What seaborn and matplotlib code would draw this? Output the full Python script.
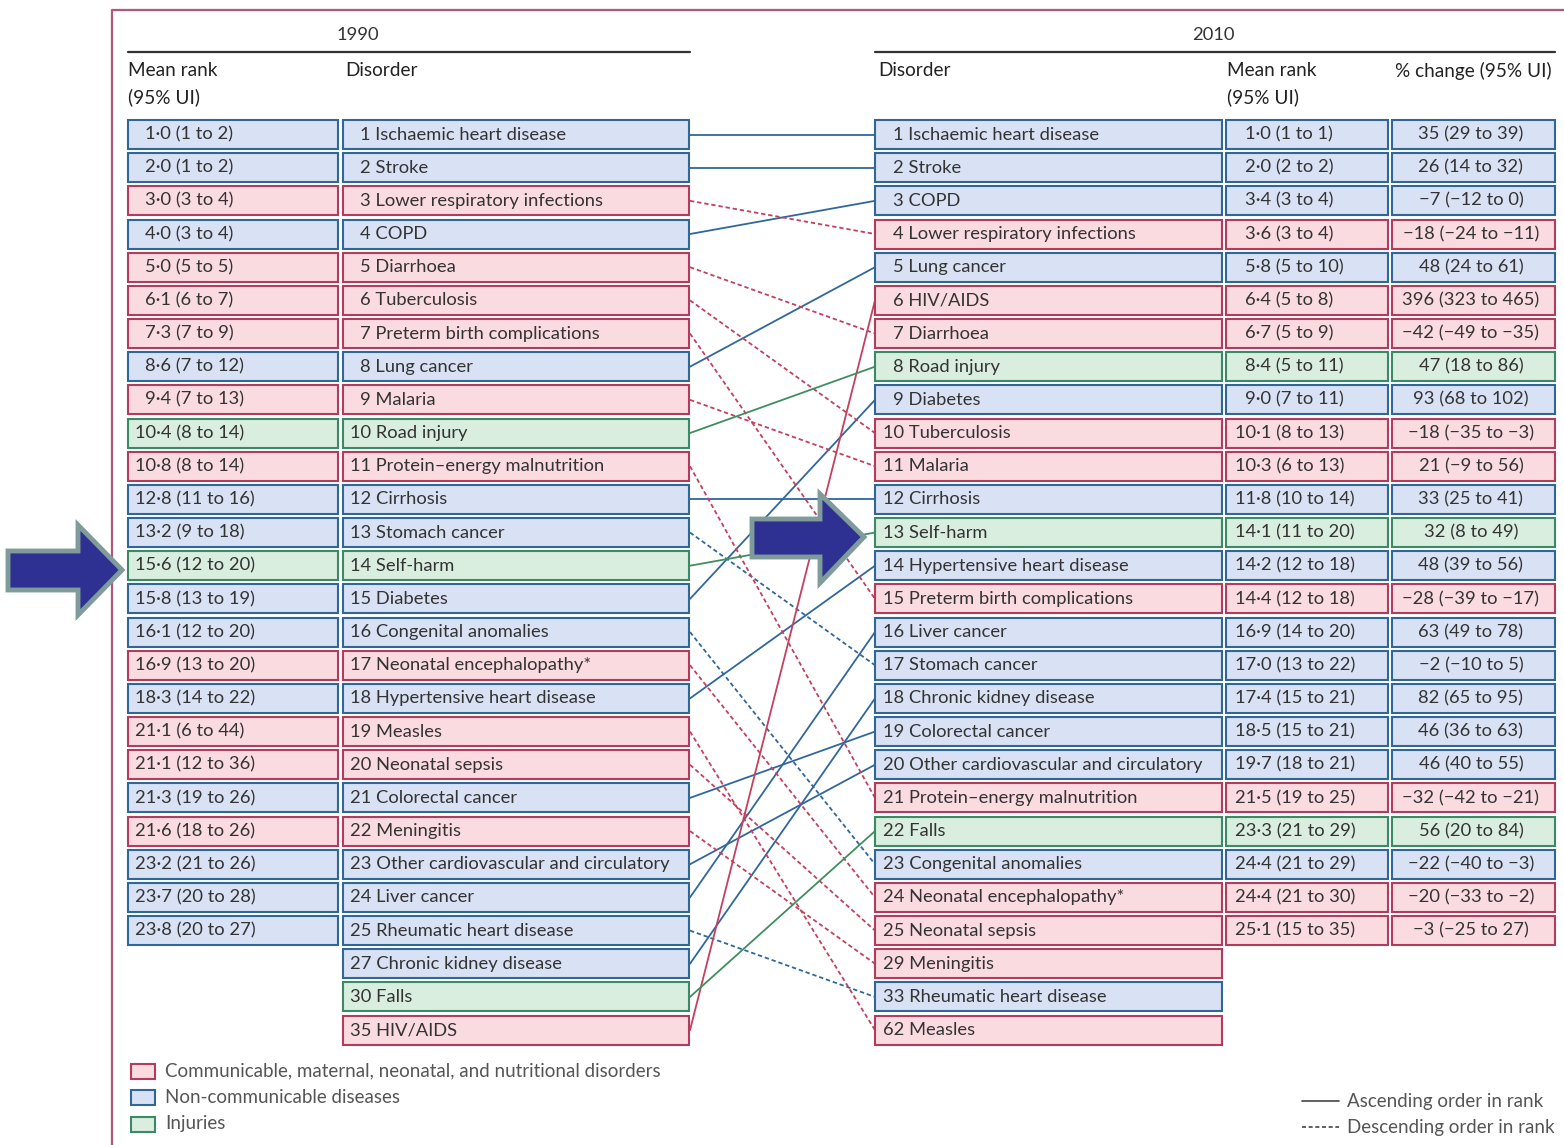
import numpy as np
import pandas as pd
import matplotlib.pyplot as plt
from matplotlib.patches import Rectangle, Polygon
import seaborn as sns

# ---- data -------------------------------------------------------------
# C = communicable, maternal, neonatal, nutritional; N = non-communicable; I = injuries
rank_1990 = [1, 2, 3, 4, 5, 6, 7, 8, 9, 10, 11, 12, 13, 14, 15, 16, 17, 18,
             19, 20, 21, 22, 23, 24, 25, 27, 30, 35]
disorder_1990 = ["Ischaemic heart disease", "Stroke", "Lower respiratory infections",
                 "COPD", "Diarrhoea", "Tuberculosis", "Preterm birth complications",
                 "Lung cancer", "Malaria", "Road injury", "Protein\u2013energy malnutrition",
                 "Cirrhosis", "Stomach cancer", "Self-harm", "Diabetes",
                 "Congenital anomalies", "Neonatal encephalopathy*",
                 "Hypertensive heart disease", "Measles", "Neonatal sepsis",
                 "Colorectal cancer", "Meningitis", "Other cardiovascular and circulatory",
                 "Liver cancer", "Rheumatic heart disease", "Chronic kidney disease",
                 "Falls", "HIV/AIDS"]
group_1990 = ["N", "N", "C", "N", "C", "C", "C", "N", "C", "I", "C", "N", "N", "I",
              "N", "N", "C", "N", "C", "C", "N", "C", "N", "N", "N", "N", "I", "C"]
meanrank_1990 = ["1\u00b70 (1 to 2)", "2\u00b70 (1 to 2)", "3\u00b70 (3 to 4)",
                 "4\u00b70 (3 to 4)", "5\u00b70 (5 to 5)", "6\u00b71 (6 to 7)",
                 "7\u00b73 (7 to 9)", "8\u00b76 (7 to 12)", "9\u00b74 (7 to 13)",
                 "10\u00b74 (8 to 14)", "10\u00b78 (8 to 14)", "12\u00b78 (11 to 16)",
                 "13\u00b72 (9 to 18)", "15\u00b76 (12 to 20)", "15\u00b78 (13 to 19)",
                 "16\u00b71 (12 to 20)", "16\u00b79 (13 to 20)", "18\u00b73 (14 to 22)",
                 "21\u00b71 (6 to 44)", "21\u00b71 (12 to 36)", "21\u00b73 (19 to 26)",
                 "21\u00b76 (18 to 26)", "23\u00b72 (21 to 26)", "23\u00b77 (20 to 28)",
                 "23\u00b78 (20 to 27)"]

rank_2010 = [1, 2, 3, 4, 5, 6, 7, 8, 9, 10, 11, 12, 13, 14, 15, 16, 17, 18,
             19, 20, 21, 22, 23, 24, 25, 29, 33, 62]
disorder_2010 = ["Ischaemic heart disease", "Stroke", "COPD", "Lower respiratory infections",
                 "Lung cancer", "HIV/AIDS", "Diarrhoea", "Road injury", "Diabetes",
                 "Tuberculosis", "Malaria", "Cirrhosis", "Self-harm",
                 "Hypertensive heart disease", "Preterm birth complications",
                 "Liver cancer", "Stomach cancer", "Chronic kidney disease",
                 "Colorectal cancer", "Other cardiovascular and circulatory",
                 "Protein\u2013energy malnutrition", "Falls", "Congenital anomalies",
                 "Neonatal encephalopathy*", "Neonatal sepsis", "Meningitis",
                 "Rheumatic heart disease", "Measles"]
group_2010 = ["N", "N", "N", "C", "N", "C", "C", "I", "N", "C", "C", "N", "I", "N",
              "C", "N", "N", "N", "N", "N", "C", "I", "N", "C", "C", "C", "N", "C"]
meanrank_2010 = ["1\u00b70 (1 to 1)", "2\u00b70 (2 to 2)", "3\u00b74 (3 to 4)",
                 "3\u00b76 (3 to 4)", "5\u00b78 (5 to 10)", "6\u00b74 (5 to 8)",
                 "6\u00b77 (5 to 9)", "8\u00b74 (5 to 11)", "9\u00b70 (7 to 11)",
                 "10\u00b71 (8 to 13)", "10\u00b73 (6 to 13)", "11\u00b78 (10 to 14)",
                 "14\u00b71 (11 to 20)", "14\u00b72 (12 to 18)", "14\u00b74 (12 to 18)",
                 "16\u00b79 (14 to 20)", "17\u00b70 (13 to 22)", "17\u00b74 (15 to 21)",
                 "18\u00b75 (15 to 21)", "19\u00b77 (18 to 21)", "21\u00b75 (19 to 25)",
                 "23\u00b73 (21 to 29)", "24\u00b74 (21 to 29)", "24\u00b74 (21 to 30)",
                 "25\u00b71 (15 to 35)"]
change_2010 = ["35 (29 to 39)", "26 (14 to 32)", "\u22127 (\u221212 to 0)",
               "\u221218 (\u221224 to \u221211)", "48 (24 to 61)", "396 (323 to 465)",
               "\u221242 (\u221249 to \u221235)", "47 (18 to 86)", "93 (68 to 102)",
               "\u221218 (\u221235 to \u22123)", "21 (\u22129 to 56)", "33 (25 to 41)",
               "32 (8 to 49)", "48 (39 to 56)", "\u221228 (\u221239 to \u221217)",
               "63 (49 to 78)", "\u22122 (\u221210 to 5)", "82 (65 to 95)",
               "46 (36 to 63)", "46 (40 to 55)", "\u221232 (\u221242 to \u221221)",
               "56 (20 to 84)", "\u221222 (\u221240 to \u22123)", "\u221220 (\u221233 to \u22122)",
               "\u22123 (\u221225 to 27)"]

legend_labels = ["Communicable, maternal, neonatal, and nutritional disorders",
                 "Non-communicable diseases", "Injuries"]

# ---- style ------------------------------------------------------------
sns.set_theme(style="white")
plt.rcParams['font.family'] = ['Lato', 'DejaVu Sans']

fill = {"C": "#fadbe0", "N": "#d9e1f4", "I": "#d9eedf"}
edge = {"C": "#b23c5e", "N": "#2f6796", "I": "#3b8a66"}
line_col = {"C": "#c4405f", "N": "#30679c", "I": "#3d8f5f"}
txt = "#333333"
fs = 13.2

Y0, DY, BH = 134.5, 33.17, 29
def row_y(i):
    return Y0 + i * DY

fig = plt.figure(figsize=(15.64, 11.45), dpi=100)
ax = fig.add_axes([0, 0, 1, 1])

# outer frame
ax.plot([112, 112, 1564], [1145, 10, 10], color="#b0587a", lw=1.6, solid_capstyle='butt')

# headers
ax.text(358, 35, "1990", ha='center', va='center', fontsize=fs, color=txt)
ax.text(1213, 35, "2010", ha='center', va='center', fontsize=fs, color=txt)
ax.plot([128, 690], [52, 52], color="#333333", lw=1.6)
ax.plot([875, 1555], [52, 52], color="#333333", lw=1.6)
for x, s in [(128, "Mean rank"), (345, "Disorder"), (878, "Disorder"),
             (1227, "Mean rank"), (1395, "% change (95% UI)")]:
    ax.text(x, 71, s, ha='left', va='center', fontsize=fs + 0.5, color="#222222")
for x in (128, 1227):
    ax.text(x, 97, "(95% UI)", ha='left', va='center', fontsize=fs + 0.5, color="#222222")

def box(x0, x1, i, g):
    ax.add_patch(Rectangle((x0, row_y(i) - BH / 2), x1 - x0, BH, facecolor=fill[g],
                           edgecolor=edge[g], lw=1.5, zorder=2))

# 1990 column
for i, (r, d, g) in enumerate(zip(rank_1990, disorder_1990, group_1990)):
    box(343, 689, i, g)
    ax.text(360 - 10 * (len(str(r)) - 1), row_y(i), f"{r} {d}", ha='left', va='center',
            fontsize=fs, color=txt, zorder=3)
    if i < len(meanrank_1990):
        box(128, 338, i, g)
        lead = meanrank_1990[i].split("\u00b7")[0]
        ax.text(145 - 10 * (len(lead) - 1), row_y(i), meanrank_1990[i], ha='left',
                va='center', fontsize=fs, color=txt, zorder=3)

# 2010 columns
for i, (r, d, g) in enumerate(zip(rank_2010, disorder_2010, group_2010)):
    box(875, 1222, i, g)
    ax.text(893 - 10 * (len(str(r)) - 1), row_y(i), f"{r} {d}", ha='left', va='center',
            fontsize=fs, color=txt, zorder=3)
    if i < len(meanrank_2010):
        box(1226, 1388, i, g)
        box(1392, 1555, i, g)
        lead = meanrank_2010[i].split("\u00b7")[0]
        ax.text(1245 - 10 * (len(lead) - 1), row_y(i), meanrank_2010[i], ha='left',
                va='center', fontsize=fs, color=txt, zorder=3)
        ax.text(1471, row_y(i), change_2010[i], ha='center', va='center',
                fontsize=fs, color=txt, zorder=3)

# connecting lines
recs = []
for i, d in enumerate(disorder_1990):
    j = disorder_2010.index(d)
    way = "asc" if rank_2010[j] <= rank_1990[i] else "desc"
    recs.append(dict(id=d, x=690, y=row_y(i), grp=group_1990[i], way=way))
    recs.append(dict(id=d, x=875, y=row_y(j), grp=group_1990[i], way=way))
links = pd.DataFrame(recs)
sns.lineplot(data=links, x="x", y="y", units="id", estimator=None, hue="grp",
             palette=line_col, style="way", dashes={"asc": "", "desc": (2.4, 1.6)},
             sort=False, lw=1.3, legend=False, ax=ax, zorder=1)
ax.set_xlim(0, 1564)
ax.set_ylim(1145, 0)
ax.axis('off')

# legend (categories)
for k, (g, lab) in enumerate(zip(["C", "N", "I"], legend_labels)):
    yc = 1071 + k * 26.5
    ax.add_patch(Rectangle((131, yc - 7.5), 24, 15, facecolor=fill[g], edgecolor=edge[g], lw=1.5))
    ax.text(165, yc, lab, ha='left', va='center', fontsize=13.5, color="#555555")

# legend (line styles)
ax.plot([1302, 1339], [1101, 1101], color="#444444", lw=1.2)
ax.plot([1302, 1339], [1127, 1127], color="#444444", lw=1.2, dashes=(2.4, 1.6))
ax.text(1347, 1101, "Ascending order in rank", ha='left', va='center', fontsize=13.5, color="#555555")
ax.text(1347, 1127, "Descending order in rank", ha='left', va='center', fontsize=13.5, color="#555555")

# highlight arrows
for pts in ([(8, 551), (78, 551), (78, 525), (122, 570), (78, 615), (78, 590), (8, 590)],
            [(752, 519), (820, 519), (820, 494), (864, 537), (820, 583), (820, 557), (752, 557)]):
    ax.add_patch(Polygon(pts, closed=True, facecolor="#2e3192", edgecolor="#7f9c9a",
                         lw=3.5, joinstyle='miter', zorder=5))

fig.savefig("out.png", dpi=100)
